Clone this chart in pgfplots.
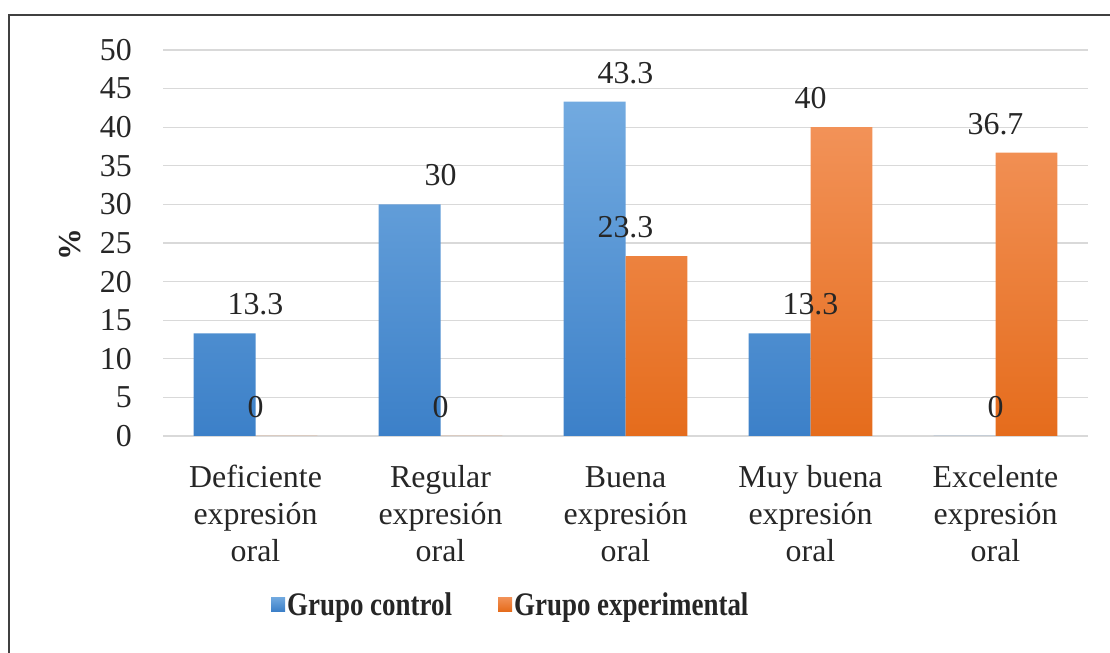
\documentclass[border=0pt]{standalone}
\usepackage{pgfplots}
\pgfplotsset{compat=1.18}
\usepackage{fontspec}
\setmainfont{Liberation Serif}
\newfontfamily\serif{Liberation Serif}
\newfontfamily\legfont[FakeStretch=0.82]{Liberation Serif}
\definecolor{bluetop}{HTML}{72AAE0}
\definecolor{bluebot}{HTML}{3C80C8}
\definecolor{orgtop}{HTML}{F29258}
\definecolor{orgbot}{HTML}{E56C1C}
\definecolor{txt}{HTML}{262626}
\begin{document}
\begin{tikzpicture}[x=1bp,y=1bp]
\useasboundingbox (0,0) rectangle (1110,653);
\draw[line width=2.2bp, color=black!75] (9,-5) -- (9,638) -- (1115,638);
\begin{axis}[
  at={(163bp,217bp)}, anchor=south west,
  scale only axis, width=925bp, height=386bp,
  xmin=-0.5, xmax=4.5, ymin=0, ymax=50,
  xtick={0,1,2,3,4},
  xticklabels={\strut Deficiente\\expresión\\oral, \strut Regular\\expresión\\oral, \strut Buena\\expresión\\oral, \strut Muy buena\\expresión\\oral, \strut Excelente\\expresión\\oral},
  ytick={0,5,...,50},
  ymajorgrids, grid style={draw=black!15, line width=1.2bp},
  axis line style={draw=none},
  major tick length=0pt,
  /pgf/number format/assume math mode=true,
  tick label style={font=\serif\fontsize{32}{37}\selectfont, text=txt},
  yticklabel style={anchor=east, inner sep=0pt, xshift=-31bp},
  xticklabel style={align=center, anchor=north, inner sep=0pt, yshift=-26bp},
  ylabel={\%},
  ylabel style={font=\serif\bfseries\fontsize{32}{36}\selectfont, text=txt, at={(axis description cs:-0.1005,0.495)}, anchor=center},
  nodes near coords,
  every node near coord/.append style={font=\serif\fontsize{32}{36}\selectfont, text=txt, anchor=south, inner sep=0pt, yshift=18bp},
  legend style={at={(0.376,-0.438)}, anchor=center, draw=none, fill=none, legend columns=2,
    font=\legfont\bfseries\fontsize{33}{36}\selectfont, text=txt,
    /tikz/every even column/.append style={column sep=44bp},
    inner sep=0pt},
  legend image code/.code={\fill[#1] (0bp,-6bp) rectangle (14bp,8bp);},
]
\addplot[ybar, bar width=0.335, bar shift=-0.1675, draw=none, top color=bluetop, bottom color=bluebot]
  coordinates {(0,13.3) (1,30) (2,43.3) (3,13.3) (4,0)};
\addplot[ybar, bar width=0.335, bar shift=0.1675, draw=none, top color=orgtop, bottom color=orgbot]
  coordinates {(0,0) (1,0) (2,23.3) (3,40) (4,36.7)};
\legend{Grupo control, Grupo experimental}
\end{axis}
\end{tikzpicture}
\end{document}
